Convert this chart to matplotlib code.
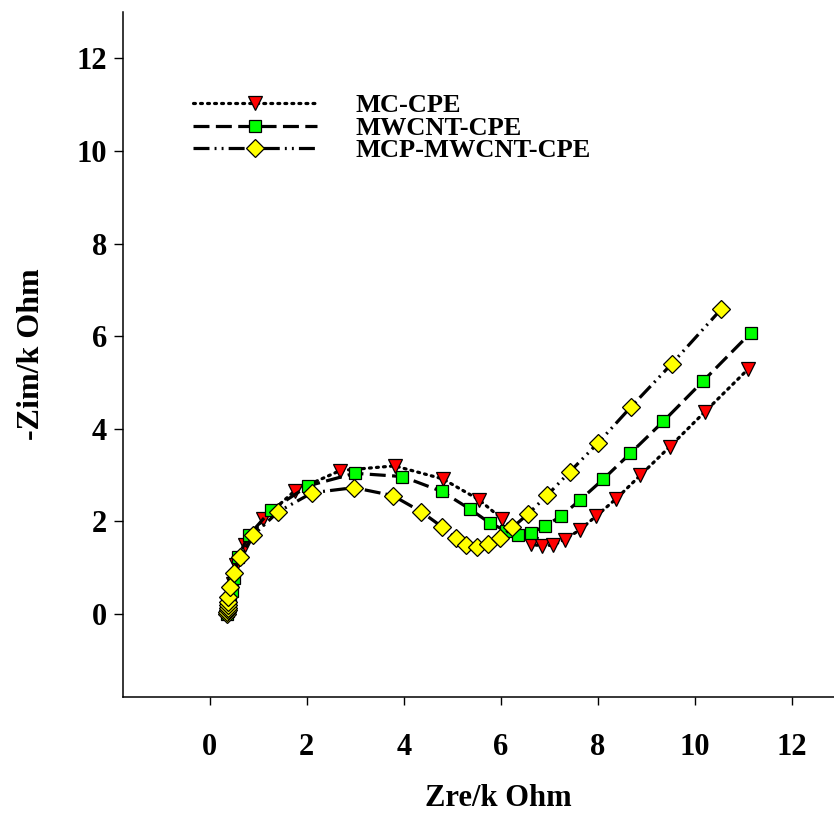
import matplotlib
matplotlib.use("Agg")
import matplotlib.pyplot as plt

# ---- data (k Ohm) ----
labels = ["MC-CPE", "MWCNT-CPE", "MCP-MWCNT-CPE"]

mc_x = [0.36, 0.37, 0.38, 0.39, 0.41, 0.43, 0.47, 0.55, 0.72, 1.10, 1.75, 2.69, 3.81,
        4.80, 5.55, 6.03, 6.62, 6.84, 7.08, 7.32, 7.63, 7.97, 8.38, 8.88, 9.48, 10.21, 11.10]
mc_y = [0.00, 0.05, 0.12, 0.20, 0.30, 0.45, 0.65, 1.06, 1.49, 2.05, 2.66, 3.10, 3.20,
        2.92, 2.47, 2.05, 1.51, 1.47, 1.49, 1.61, 1.82, 2.12, 2.49, 3.00, 3.61, 4.37, 5.29]

mw_x = [0.36, 0.37, 0.38, 0.40, 0.42, 0.45, 0.50, 0.58, 0.81, 1.27, 2.03, 2.99, 3.97,
        4.78, 5.36, 5.77, 6.10, 6.36, 6.62, 6.91, 7.25, 7.63, 8.11, 8.67, 9.35, 10.17, 11.16]
mw_y = [0.00, 0.06, 0.13, 0.22, 0.34, 0.50, 0.78, 1.24, 1.71, 2.25, 2.77, 3.04, 2.97,
        2.65, 2.27, 1.97, 1.80, 1.71, 1.75, 1.90, 2.12, 2.46, 2.91, 3.47, 4.16, 5.03, 6.08]

mcp_x = [0.36, 0.36, 0.37, 0.37, 0.37, 0.38, 0.38, 0.41, 0.49, 0.63, 0.90, 1.41, 2.11,
         2.97, 3.77, 4.36, 4.78, 5.07, 5.29, 5.51, 5.74, 5.98, 6.24, 6.57, 6.96, 7.42,
         8.01, 8.69, 9.53, 10.55]
mcp_y = [0.00, 0.04, 0.09, 0.14, 0.20, 0.27, 0.37, 0.58, 0.88, 1.24, 1.71, 2.21, 2.62,
         2.73, 2.56, 2.21, 1.89, 1.64, 1.49, 1.44, 1.51, 1.65, 1.87, 2.17, 2.57, 3.07,
         3.70, 4.48, 5.41, 6.59]

xticks = [0, 2, 4, 6, 8, 10, 12]
yticks = [0, 2, 4, 6, 8, 10, 12]

# ---- figure ----
plt.rcParams['font.family'] = ['Liberation Serif', 'DejaVu Serif']
plt.rcParams['font.weight'] = 'bold'

fig = plt.figure(figsize=(8.34, 8.13), dpi=100)
ax = fig.add_axes([123/834, 1 - 697/813, 1 - 123/834, (697 - 12)/813])

lw = 2.3
ax.plot(mc_x, mc_y, linestyle=(0, (0.6, 1.6)), dash_capstyle='round', color='black', lw=lw,
        marker='v', ms=10, mfc='#FF0000', mec='black', mew=0.9, label=labels[0])
ax.plot(mw_x, mw_y, linestyle=(0, (5, 2)), color='black', lw=lw,
        marker='s', ms=9, mfc='#00FF00', mec='black', mew=0.9, label=labels[1])
ax.plot(mcp_x, mcp_y, linestyle=(0, (5, 1.6, 0.6, 1.6, 0.6, 1.6)), color='black', lw=lw,
        marker='D', ms=9, mfc='#FFFF00', mec='black', mew=0.9, label=labels[2])

ax.set_xlim(-1.79, 12.87)
ax.set_ylim(-1.79, 13.0)
ax.set_xticks(xticks)
ax.set_yticks(yticks)

for s in ['top', 'right']:
    ax.spines[s].set_visible(False)
for s in ['left', 'bottom']:
    ax.spines[s].set_linewidth(1.1)

ax.tick_params(axis='x', direction='out', length=6, width=1.0, pad=20, labelsize=22)
ax.tick_params(axis='y', direction='out', length=6.5, width=1.0, pad=5, labelsize=22)
for t in ax.get_xticklabels() + ax.get_yticklabels():
    t.set_fontweight('bold')

ax.set_xlabel('Zre/k Ohm', fontsize=22, fontweight='bold')
ax.set_ylabel('-Zim/k Ohm', fontsize=23, fontweight='bold')
ax.xaxis.set_label_coords((498 - 123) / 711, (697 - 784) / 685)
ax.yaxis.set_label_coords((46 - 123) / 711, 0.5 + (355 - 354.5) / 685)

leg = ax.legend(loc='upper left', bbox_to_anchor=((193 - 123) / 711, (697 - 94) / 685),
                frameon=False, fontsize=19, handlelength=4.7, handletextpad=1.45,
                labelspacing=-0.04, borderpad=0, borderaxespad=0)
for t in leg.get_texts():
    t.set_fontweight('bold')

fig.savefig('out.png', dpi=100)
